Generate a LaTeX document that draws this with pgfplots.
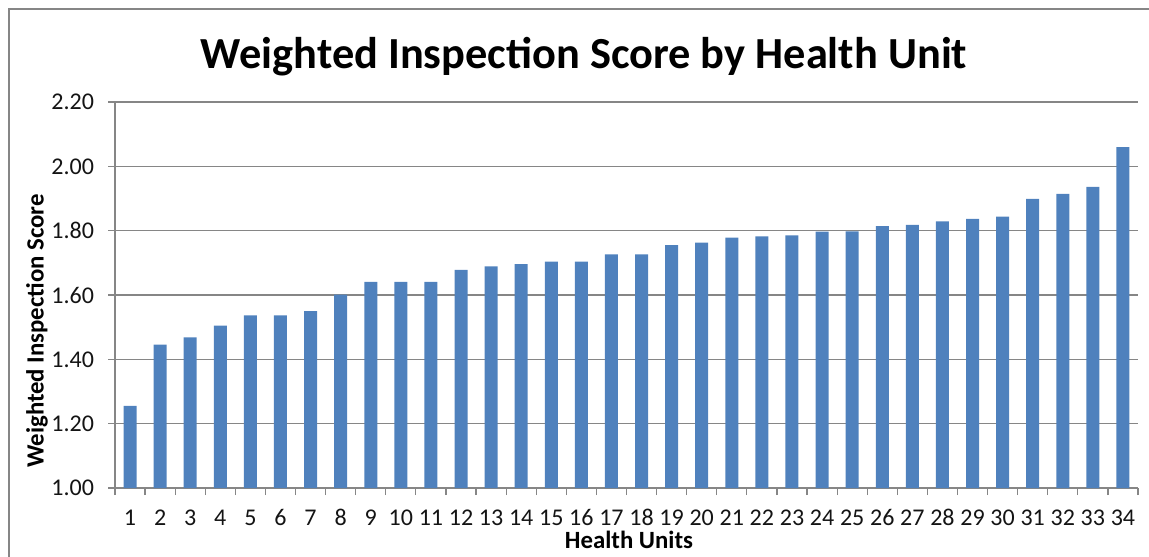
\documentclass[border=0pt]{standalone}
\usepackage{fontspec}
\setmainfont{Carlito}
\usepackage{pgfplots}
\pgfplotsset{compat=1.18}
\definecolor{barblue}{RGB}{79,129,189}
\definecolor{gridgray}{RGB}{134,134,134}
\definecolor{txt}{RGB}{20,20,20}

\begin{document}
\begin{tikzpicture}
% page is 1149 x 556 reference pixels = 574.5pt x 278pt, y measured from the bottom
\useasboundingbox (0pt,0pt) rectangle (574.5pt,278pt);
\draw[gridgray, line width=1pt] (4.5pt,-2pt) -- (4.5pt,273.5pt) -- (576pt,273.5pt);
\node[font=\fontsize{22.2}{26}\selectfont\bfseries, text=black] at (292pt,249.5pt) {Weighted Inspection Score by Health Unit};
\node[font=\fontsize{12.4}{15}\selectfont\bfseries, rotate=90, text=black] at (18.5pt,112.5pt) {Weighted Inspection Score};
\node[font=\fontsize{12.4}{15}\selectfont\bfseries, text=black, inner sep=0pt, anchor=base] at (314.5pt,3.8pt) {Health Units};
\begin{axis}[
  at={(57.5pt,34pt)}, anchor=south west,
  width=511.5pt, height=193pt, scale only axis,
  xmin=0.5, xmax=34.5, ymin=1, ymax=2.2,
  axis lines*=left,
  axis line style={gridgray, line width=0.6pt},
  ymajorgrids, grid style={gridgray, line width=0.6pt},
  ytick={1,1.2,...,2.2},
  yticklabel style={xshift=-3.5pt, /pgf/number format/.cd, fixed, fixed zerofill, precision=2},
  xtick={0.5,1.5,...,34.5}, xticklabels={},
  extra x ticks={1,...,34},
  extra x tick style={major tick length=0pt, grid=none},
  tick align=outside, major tick length=3.5pt,
  tick style={gridgray, line width=0.6pt},
  ticklabel style={font=\fontsize{12}{14}\selectfont, text=txt},
  /pgf/number format/assume math mode=true,
  xticklabel style={anchor=base, yshift=-18.5pt, inner sep=0pt},
]
\addplot[ybar, bar width=6.5pt, fill=barblue, draw=none] coordinates {
(1,1.255)(2,1.446)(3,1.468)(4,1.505)(5,1.537)(6,1.537)(7,1.550)(8,1.601)
(9,1.641)(10,1.641)(11,1.641)(12,1.678)(13,1.689)(14,1.696)(15,1.704)(16,1.704)
(17,1.726)(18,1.726)(19,1.755)(20,1.763)(21,1.778)(22,1.782)(23,1.785)(24,1.797)
(25,1.798)(26,1.814)(27,1.818)(28,1.829)(29,1.837)(30,1.844)(31,1.899)(32,1.914)
(33,1.936)(34,2.060)};
\end{axis}
\end{tikzpicture}
\end{document}
